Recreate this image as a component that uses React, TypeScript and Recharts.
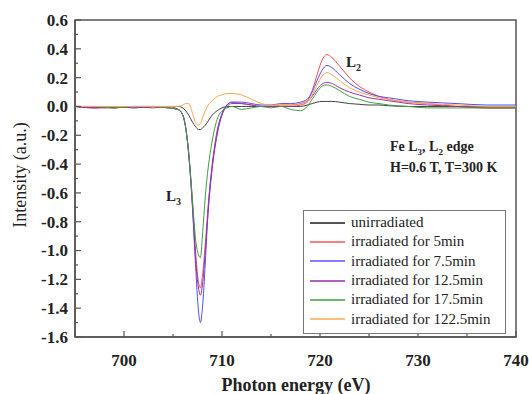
import React from 'react';
import { LineChart, Line, XAxis, YAxis, Legend, ReferenceArea } from 'recharts';

// photon energy (eV) sample points
const energy = [
  695, 697, 699, 701, 703, 704.5, 705.5, 706, 706.3, 706.6, 707, 707.3, 707.6, 707.8, 708, 708.3,
  708.6, 709, 709.5, 710, 710.5, 711, 712, 713, 714, 715, 716, 717, 718, 718.7, 719.2, 719.7,
  720.2, 720.7, 721.2, 722, 723, 724, 725, 726, 727, 729, 731, 734, 737, 740,
];

const unirradiated = [
  0.0, 0.0, -0.01, 0.0, 0.0, 0.0, 0.0, -0.01, -0.03, -0.06, -0.11, -0.14, -0.16, -0.16, -0.15, -0.13,
  -0.1, -0.06, -0.03, -0.01, 0.0, 0.0, 0.0, 0.0, 0.0, 0.0, 0.0, 0.0, 0.0, 0.01, 0.02, 0.03,
  0.035, 0.035, 0.035, 0.03, 0.02, 0.015, 0.01, 0.01, 0.005, 0.0, 0.0, 0.0, 0.0, 0.0,
];
const irr5 = [
  0.0, -0.01, 0.0, -0.01, 0.0, -0.01, -0.02, -0.06, -0.15, -0.32, -0.68, -1.0, -1.22, -1.26, -1.18, -0.95,
  -0.68, -0.4, -0.17, -0.05, 0.01, 0.03, 0.02, 0.01, 0.0, 0.0, 0.01, 0.01, 0.02, 0.04, 0.11, 0.22,
  0.32, 0.36, 0.34, 0.28, 0.2, 0.14, 0.1, 0.07, 0.05, 0.03, 0.02, 0.0, -0.01, -0.01,
];
const irr75 = [
  0.0, -0.01, 0.0, -0.01, 0.0, -0.01, -0.02, -0.06, -0.15, -0.33, -0.72, -1.1, -1.42, -1.5, -1.4, -1.08,
  -0.7, -0.42, -0.18, -0.05, 0.01, 0.03, 0.03, 0.02, 0.01, 0.01, 0.02, 0.02, 0.03, 0.05, 0.1, 0.18,
  0.25, 0.285, 0.27, 0.22, 0.16, 0.12, 0.09, 0.07, 0.06, 0.04, 0.03, 0.02, 0.01, 0.01,
];
const irr125 = [
  0.0, -0.01, -0.01, 0.0, -0.01, 0.0, -0.02, -0.06, -0.15, -0.33, -0.7, -1.05, -1.26, -1.31, -1.24, -1.0,
  -0.72, -0.43, -0.2, -0.06, 0.0, 0.02, 0.02, 0.01, 0.0, 0.0, 0.0, 0.0, 0.01, 0.03, 0.07, 0.12,
  0.155, 0.167, 0.16, 0.13, 0.1, 0.08, 0.06, 0.05, 0.04, 0.02, 0.01, 0.0, -0.01, -0.01,
];
const irr175 = [
  0.0, 0.0, -0.01, 0.0, 0.0, -0.01, -0.02, -0.06, -0.15, -0.32, -0.66, -0.92, -1.03, -1.05, -0.9, -0.62,
  -0.42, -0.24, -0.09, -0.03, -0.01, 0.0, -0.02, -0.01, 0.0, -0.01, 0.0, -0.02, -0.03, 0.0, 0.05, 0.1,
  0.14, 0.15, 0.14, 0.11, 0.07, 0.05, 0.03, 0.02, 0.01, 0.0, -0.01, -0.01, -0.01, -0.01,
];
const irr1225 = [
  0.0, 0.0, 0.0, 0.0, 0.0, 0.0, 0.0, 0.01, 0.02, 0.02, -0.05, -0.11, -0.13, -0.12, -0.08, -0.03,
  0.01, 0.04, 0.07, 0.08, 0.09, 0.09, 0.08, 0.05, 0.02, 0.01, 0.01, 0.01, 0.01, 0.03, 0.08, 0.15,
  0.21, 0.235, 0.22, 0.18, 0.13, 0.1, 0.08, 0.06, 0.05, 0.03, 0.02, 0.01, 0.0, 0.0,
];

const xTicks = [695, 700, 705, 710, 715, 720, 725, 730, 735, 740];
const yTicks = [
  -1.6, -1.5, -1.4, -1.3, -1.2, -1.1, -1.0, -0.9, -0.8, -0.7, -0.6, -0.5, -0.4, -0.3, -0.2, -0.1,
  0.0, 0.1, 0.2, 0.3, 0.4, 0.5, 0.6,
];

const series = [
  { key: 'u', name: 'unirradiated', values: unirradiated, color: '#404040', legend: '#555555' },
  { key: 'r5', name: 'irradiated for 5min', values: irr5, color: '#ff4d4d', legend: '#ff8080' },
  { key: 'r75', name: 'irradiated for 7.5min', values: irr75, color: '#4d4dff', legend: '#8080ff' },
  { key: 'r125', name: 'irradiated for 12.5min', values: irr125, color: '#9933aa', legend: '#b060c0' },
  { key: 'r175', name: 'irradiated for 17.5min', values: irr175, color: '#3f9f3f', legend: '#70b870' },
  { key: 'r1225', name: 'irradiated for 122.5min', values: irr1225, color: '#ffa64d', legend: '#ffc080' },
];

const data = energy.map((e, i) => {
  const row: Record<string, number> = { e };
  series.forEach((s) => {
    row[s.key] = s.values[i];
  });
  return row;
});

const serif = 'Tinos, "Liberation Serif", "Noto Serif", "DejaVu Serif", serif';
const axisColor = '#555';

const YTick = (props: any) => {
  const { x, y, payload } = props;
  const major = Math.round(payload.value * 10) % 2 === 0;
  const axisX = x + 7;
  return (
    <g>
      <line x1={axisX} x2={axisX + (major ? 6 : 3)} y1={y} y2={y} stroke={axisColor} strokeWidth={1.2} />
      {major && (
        <text x={x} y={y} dy="0.35em" textAnchor="end" fontFamily={serif} fontWeight="bold" fontSize={17} fill="#222">
          {payload.value.toFixed(1)}
        </text>
      )}
    </g>
  );
};

const XTick = (props: any) => {
  const { x, y, payload } = props;
  const major = payload.value % 10 === 0;
  return (
    <g>
      <line x1={x} x2={x} y1={y} y2={y - (major ? 6 : 3)} stroke={axisColor} strokeWidth={1.2} />
      {major && (
        <text x={x} y={y + 29} textAnchor="middle" fontFamily={serif} fontWeight="bold" fontSize={17} fill="#222">
          {payload.value}
        </text>
      )}
    </g>
  );
};

// legend keeps the series order instead of the default sort
const renderLegend = () => (
  <div
    style={{
      border: '1px solid #777',
      background: '#fff',
      padding: '2px 0 4px 6px',
      fontFamily: serif,
      fontSize: 15,
      color: '#222',
      width: 195,
    }}
  >
    {series.map((s) => (
      <div key={s.key} style={{ display: 'flex', alignItems: 'center', height: 19.3 }}>
        <div style={{ width: 35, height: 2, background: s.legend, marginRight: 6, flex: 'none' }} />
        <span>{s.name}</span>
      </div>
    ))}
  </div>
);

const textStyle: React.CSSProperties = {
  position: 'absolute',
  fontFamily: serif,
  fontWeight: 'bold',
  color: '#222',
  whiteSpace: 'nowrap',
  lineHeight: 1,
};

const App: React.FC = () => {
  return (
    <div style={{ position: 'absolute', left: 0, top: 0, width: 529, height: 394, background: '#fff' }}>
      <LineChart width={529} height={394} data={data} margin={{ top: 20, right: 13, left: 0, bottom: 0 }}>
        <XAxis
          dataKey="e"
          type="number"
          domain={[695, 740]}
          ticks={xTicks}
          interval={0}
          tickLine={false}
          tickSize={0}
          tickMargin={0}
          height={57}
          stroke={axisColor}
          strokeWidth={1.5}
          tick={<XTick />}
          allowDataOverflow
        />
        <YAxis
          type="number"
          domain={[-1.6, 0.6]}
          ticks={yTicks}
          interval={0}
          tickLine={false}
          tickSize={0}
          tickMargin={7}
          width={75}
          stroke={axisColor}
          strokeWidth={1.5}
          tick={<YTick />}
          allowDataOverflow
        />
        <ReferenceArea x1={695} x2={740} y1={-1.6} y2={0.6} fill="none" stroke={axisColor} strokeWidth={1.5} />
        {series.map((s) => (
          <Line
            key={s.key}
            dataKey={s.key}
            name={s.name}
            type="monotone"
            stroke={s.color}
            strokeWidth={1}
            dot={false}
            isAnimationActive={false}
          />
        ))}
        <Legend
          layout="vertical"
          align="center"
          verticalAlign="middle"
          content={renderLegend}
          wrapperStyle={{ left: 303, top: 210, width: 202 }}
        />
      </LineChart>

      <div
        style={{
          position: 'absolute',
          left: 20,
          top: 175,
          transform: 'translate(-50%, -50%) rotate(-90deg)',
          fontFamily: serif,
          fontSize: 18,
          color: '#222',
          whiteSpace: 'nowrap',
        }}
      >
        Intensity (a.u.)
      </div>
      <div
        style={{
          position: 'absolute',
          left: 296,
          top: 385,
          transform: 'translate(-50%, -50%)',
          fontFamily: serif,
          fontWeight: 'bold',
          fontSize: 18,
          color: '#222',
          whiteSpace: 'nowrap',
        }}
      >
        Photon energy (eV)
      </div>

      <div style={{ ...textStyle, left: 346, top: 55, fontSize: 15 }}>
        L<sub style={{ fontSize: 10 }}>2</sub>
      </div>
      <div style={{ ...textStyle, left: 166, top: 189, fontSize: 15 }}>
        L<sub style={{ fontSize: 10 }}>3</sub>
      </div>
      <div style={{ ...textStyle, left: 390, top: 140, fontSize: 14 }}>
        Fe L<sub style={{ fontSize: 9 }}>3</sub>, L<sub style={{ fontSize: 9 }}>2</sub> edge
      </div>
      <div style={{ ...textStyle, left: 390, top: 161, fontSize: 14 }}>H=0.6 T, T=300 K</div>
    </div>
  );
};

export default App;
